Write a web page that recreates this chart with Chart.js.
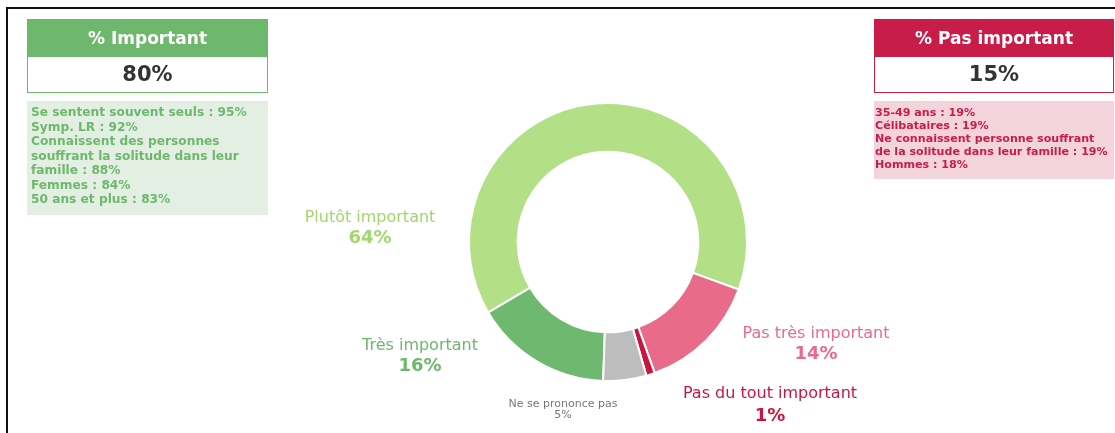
<!DOCTYPE html>
<html>
<head>
<meta charset="utf-8">
<script src="https://cdn.jsdelivr.net/npm/chart.js@4.4.1/dist/chart.umd.min.js"></script>
<style>
  body { margin: 0; background: #fff; font-family: "DejaVu Sans", Verdana, sans-serif; }
  #wrap { position: relative; width: 1115px; height: 433px; overflow: hidden; }
  #frame { position: absolute; left: 6px; top: 7px; right: 0; bottom: 0; border-left: 2px solid #111; border-top: 2px solid #111; }
  #chart-avis { position: absolute; left: 0; top: 0; }
  .panel { position: absolute; top: 19px; }
  .box { border: 1px solid; background: #fff; }
  .box .head { height: 37px; line-height: 37px; text-align: center; color: #fff; font-weight: bold; font-size: 17px; }
  .box .val { height: 35px; line-height: 35px; text-align: center; color: #333; font-weight: bold; font-size: 21px; }
  .info { margin-top: 8px; font-weight: bold; white-space: nowrap; }
  #left { left: 27px; width: 241px; }
  #left .box { border-color: #6db86d; }
  #left .head { background: #6db86d; }
  #left .info { background: #e4efe4; color: #6db86d; height: 106px; padding: 4px 4px; font-size: 12.2px; line-height: 14.5px; }
  #right { left: 874px; width: 240px; }
  #right .box { border-color: #c81d48; }
  #right .head { background: #c81d48; }
  #right .info { background: #f3d3dc; color: #c81d48; height: 69px; padding: 5px 2px 4px 1px; font-size: 11.1px; line-height: 13px; }
</style>
</head>
<body>
<div id="wrap">
  <canvas id="chart-avis" width="1115" height="433"></canvas>
  <div id="frame"></div>
  <div class="panel" id="left">
    <div class="box"><div class="head" id="left-title"></div><div class="val" id="left-val"></div></div>
    <div class="info" id="left-info"></div>
  </div>
  <div class="panel" id="right">
    <div class="box"><div class="head" id="right-title"></div><div class="val" id="right-val"></div></div>
    <div class="info" id="right-info"></div>
  </div>
</div>
<script>
const categories = ["Très important", "Plutôt important", "Pas très important", "Pas du tout important", "Ne se prononce pas"];
const values = [16, 64, 14, 1, 5];

const importantTotal = 80;
const importantLines = ["Se sentent souvent seuls : 95%", "Symp. LR : 92%", "Connaissent des personnes", "souffrant la solitude dans leur", "famille : 88%", "Femmes : 84%", "50 ans et plus : 83%"];
const notImportantTotal = 15;
const notImportantLines = ["35-49 ans : 19%", "Célibataires : 19%", "Ne connaissent personne souffrant", "de la solitude dans leur famille : 19%", "Hommes : 18%"];

const sliceColors = ["#6fb86f", "#b3df86", "#e96b8a", "#c8173f", "#bdbdbd"];
const labelColors = ["#6db86d", "#a3d66c", "#e96b8a", "#c8173f", "#777777"];
// label placement relative to the doughnut centre: [dx, dyTitle, dyValue]
const labelOffsets = [[-188, 104, 124], [-238, -24, -4], [208, 92, 112], [162, 152, 174], [-45, 162, 173]];

document.getElementById("left-title").textContent = "% Important";
document.getElementById("left-val").textContent = importantTotal + "%";
document.getElementById("left-info").innerHTML = importantLines.join("<br>");
document.getElementById("right-title").textContent = "% Pas important";
document.getElementById("right-val").textContent = notImportantTotal + "%";
document.getElementById("right-info").innerHTML = notImportantLines.join("<br>");

const sliceLabels = {
    id: "sliceLabels",
    afterDatasetsDraw(chart) {
        const ctx = chart.ctx;
        const arc = chart.getDatasetMeta(0).data[0];
        ctx.save();
        ctx.textAlign = "center";
        ctx.textBaseline = "middle";
        categories.forEach((name, i) => {
            const small = i === 4;
            const [dx, dy1, dy2] = labelOffsets[i];
            ctx.fillStyle = labelColors[i];
            ctx.font = (small ? "11px" : "16px") + ' "DejaVu Sans", sans-serif';
            ctx.fillText(name, arc.x + dx, arc.y + dy1);
            ctx.font = small ? '11px "DejaVu Sans", sans-serif' : 'bold 18px "DejaVu Sans", sans-serif';
            ctx.fillText(values[i] + "%", arc.x + dx, arc.y + dy2);
        });
        ctx.restore();
    }
};

const chartAvis = document.getElementById("chart-avis");

const dataChartAvis = {
    labels: categories,
    datasets: [
        {
            data: values,
            backgroundColor: sliceColors,
            borderColor: "#ffffff",
            borderWidth: 2,
        },
    ],
};

const configAvis = {
    type: "doughnut",
    data: dataChartAvis,
    options: {
        responsive: false,
        animation: false,
        rotation: 182,
        cutout: "65%",
        layout: {
            padding: { top: 102, bottom: 51, left: 468, right: 367 },
        },
        plugins: {
            legend: { display: false },
            tooltip: { enabled: false },
        },
    },
    plugins: [sliceLabels],
};

new Chart(chartAvis, configAvis);
</script>
</body>
</html>
